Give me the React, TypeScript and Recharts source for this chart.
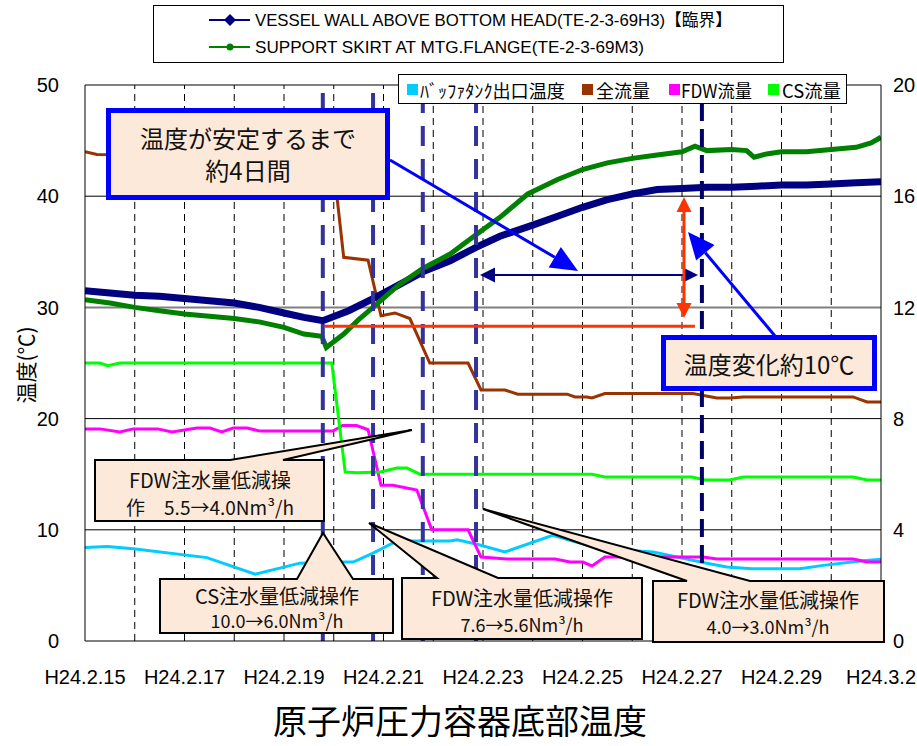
import React from 'react';
import { ComposedChart, Line, XAxis, YAxis, ReferenceLine } from 'recharts';

// ---- axes ----
const xTicks = [0, 2, 4, 6, 8, 10, 12, 14, 16];
const xTickLabels = ['H24.2.15', 'H24.2.17', 'H24.2.19', 'H24.2.21', 'H24.2.23', 'H24.2.25', 'H24.2.27', 'H24.2.29', 'H24.3.2'];
const leftTicks = [0, 10, 20, 30, 40, 50];
const rightTicks = [0, 4, 8, 12, 16, 20];
const gridDays = [1, 2, 3, 4, 5, 6, 7, 8, 9, 10, 11, 12, 13, 14, 15];
const gridTemps = [10, 20, 40, 50];

// ---- series: [day since H24.2.15, value] ----
const vesselWall: [number, number][] = [
  [0, 31.5], [0.5, 31.3], [1, 31.1], [1.5, 31.0], [2, 30.8], [2.5, 30.6], [3, 30.4], [3.5, 30.0],
  [4, 29.5], [4.4, 29.1], [4.78, 28.8], [5.3, 29.7], [5.79, 30.8], [6.3, 32.0], [6.79, 33.2],
  [7.34, 34.2], [7.86, 35.4], [8.34, 36.4], [9, 37.4], [9.5, 38.2], [10, 39.0], [10.5, 39.7],
  [11, 40.2], [11.5, 40.6], [12, 40.7], [12.5, 40.8], [13, 40.8], [13.5, 40.9], [14, 41.0],
  [14.5, 41.0], [15, 41.1], [15.5, 41.2], [16, 41.3],
];
const supportSkirt: [number, number][] = [
  [0, 30.7], [0.5, 30.4], [1, 30.0], [1.5, 29.7], [2, 29.4], [2.5, 29.2], [3, 29.0], [3.5, 28.7],
  [4, 28.2], [4.4, 27.6], [4.76, 27.4], [4.85, 26.4], [5.2, 27.6], [5.5, 28.9], [5.79, 30.0],
  [6.3, 32.0], [6.79, 33.5], [7.34, 34.8], [7.88, 36.6], [8.34, 38.1], [8.9, 40.2], [9.5, 41.5],
  [10, 42.4], [10.5, 43.0], [11, 43.4], [11.5, 43.7], [12, 44.0], [12.26, 44.5], [12.5, 44.1],
  [13, 44.2], [13.3, 44.1], [13.45, 43.5], [13.7, 43.8], [14, 44.0], [14.5, 44.0], [15, 44.2],
  [15.5, 44.4], [15.8, 44.8], [16, 45.3],
];
const bufferTankTemp: [number, number][] = [
  [0, 8.4], [0.45, 8.5], [0.97, 8.3], [2.45, 7.5], [3.42, 6.0], [4.32, 7.0], [5.18, 7.1],
  [5.39, 7.1], [5.79, 7.9], [6.27, 9.0], [7.34, 9.0], [7.48, 9.1], [7.88, 8.7], [8.44, 8.0],
  [9.4, 9.5], [10.35, 8.3], [11.42, 8.0], [12.5, 7.0], [12.9, 6.65], [13.4, 6.5], [14.37, 6.5],
  [14.84, 6.8], [15.58, 7.2], [16, 7.35],
];
const totalFlow: [number, number][] = [
  [0, 17.6], [0.24, 17.5], [4.92, 17.4], [5.07, 15.9], [5.2, 13.8], [5.69, 13.7], [5.95, 11.7],
  [6.23, 11.8], [6.53, 11.6], [6.93, 10.0], [7.7, 10.0], [7.96, 9.03], [8.44, 9.03], [8.7, 8.88],
  [9.69, 8.88], [9.85, 8.78], [10.09, 8.78], [10.19, 8.74], [10.45, 8.9], [12.22, 8.9],
  [12.7, 8.74], [12.96, 8.74], [13.23, 8.78], [15.44, 8.78], [15.72, 8.6], [16, 8.6],
];
const fdwFlow: [number, number][] = [
  [0, 7.63], [0.3, 7.63], [0.7, 7.52], [0.97, 7.63], [1.46, 7.63], [1.75, 7.52], [2.25, 7.66],
  [2.51, 7.66], [2.75, 7.52], [2.98, 7.66], [3.26, 7.66], [3.52, 7.55], [4.98, 7.55], [5.18, 7.75],
  [5.46, 7.75], [5.69, 7.6], [5.95, 5.6], [6.19, 5.6], [6.67, 5.43], [6.97, 4.0], [7.7, 4.0],
  [7.96, 3.02], [8.48, 2.95], [9.45, 2.95], [9.75, 2.84], [10.01, 2.84], [10.19, 2.7], [10.45, 3.02],
  [12.42, 3.02], [12.7, 2.95], [15.44, 2.95], [15.72, 2.84], [16, 2.84],
];
const csFlow: [number, number][] = [
  [0, 10.0], [0.3, 10.0], [0.46, 9.9], [0.7, 10.0], [4.96, 10.0], [5.23, 6.08], [5.47, 6.05],
  [5.93, 6.08], [6.27, 6.22], [6.47, 6.22], [6.73, 6.0], [10.19, 6.0], [10.45, 5.9], [12.2, 5.9],
  [12.46, 5.79], [12.96, 5.79], [13.23, 5.9], [15.44, 5.9], [15.72, 5.79], [16, 5.79],
];

// ---- operation markers ----
const opDays = [4.78, 5.79, 6.79, 7.86];
const stableDay = 12.4;
const baseTemp = 28.3;
const baseFrom = 4.82;
const baseTo = 12.26;

const toRows = (pts: [number, number][]) => pts.map(([d, v]) => ({ d, v }));

const JP = "'Noto Sans CJK JP', sans-serif";
const LAT = "'Liberation Sans', 'Noto Sans CJK JP', sans-serif";
const PEACH = '#fde9d9';

function callout(box: [number, number, number, number], b1: number, b2: number, tip: [number, number]) {
  const [l, t, r, bt] = box;
  return `M${l},${t} L${b1},${t} L${tip[0]},${tip[1]} L${b2},${t} L${r},${t} L${r},${bt} L${l},${bt} Z`;
}

function arrowHead(x1: number, y1: number, x2: number, y2: number, len: number, hw: number) {
  const dx = x2 - x1, dy = y2 - y1;
  const L = Math.hypot(dx, dy);
  const ux = dx / L, uy = dy / L;
  const bx = x2 - ux * len, by = y2 - uy * len;
  const px = -uy * hw, py = ux * hw;
  return { pts: `${x2},${y2} ${bx + px},${by + py} ${bx - px},${by - py}`, bx, by };
}

function Arrow({ x1, y1, x2, y2, color, w, len, hw, both }: any) {
  const h2 = arrowHead(x1, y1, x2, y2, len, hw);
  const h1 = both ? arrowHead(x2, y2, x1, y1, len, hw) : null;
  return (
    <g>
      <line x1={h1 ? h1.bx : x1} y1={h1 ? h1.by : y1} x2={h2.bx} y2={h2.by} stroke={color} strokeWidth={w} />
      <polygon points={h2.pts} fill={color} />
      {h1 && <polygon points={h1.pts} fill={color} />}
    </g>
  );
}

export default function App() {
  return (
    <div style={{ position: 'absolute', left: 0, top: 0, width: 917, height: 746, background: '#fff' }}>
      <ComposedChart width={917} height={746} margin={{ top: 85, right: 0, bottom: 65, left: 0 }}>
        <XAxis
          dataKey="d"
          type="number"
          domain={[0, 16]}
          ticks={xTicks}
          interval={0}
          allowDataOverflow
          tickFormatter={(v: number) => xTickLabels[xTicks.indexOf(v)] ?? ''}
          height={40}
          tickSize={0}
          tickMargin={29}
          axisLine={{ stroke: '#000', strokeWidth: 1 }}
          tick={{ fontSize: 20, fill: '#000', fontFamily: LAT }}
        />
        <YAxis
          yAxisId="L"
          width={85}
          domain={[0, 50]}
          ticks={leftTicks}
          interval={0}
          allowDataOverflow
          tickSize={0}
          tickMargin={26}
          axisLine={{ stroke: '#000', strokeWidth: 1 }}
          tick={{ fontSize: 20, fill: '#000', fontFamily: LAT }}
        />
        <YAxis
          yAxisId="R"
          orientation="right"
          width={36}
          domain={[0, 20]}
          ticks={rightTicks}
          interval={0}
          allowDataOverflow
          tickSize={0}
          tickMargin={12}
          axisLine={{ stroke: '#000', strokeWidth: 1 }}
          tick={{ fontSize: 20, fill: '#000', fontFamily: LAT, textAnchor: 'start' }}
        />
        {gridDays.map((d) => (
          <ReferenceLine key={'gd' + d} x={d} yAxisId="L" stroke="#000" strokeWidth={1} strokeDasharray="7 5" />
        ))}
        {gridTemps.map((t) => (
          <ReferenceLine key={'gt' + t} y={t} yAxisId="L" stroke="#000" strokeWidth={1} />
        ))}
        <ReferenceLine y={30} yAxisId="L" stroke="#808080" strokeWidth={2} />

        <Line data={toRows(bufferTankTemp)} dataKey="v" yAxisId="L" type="linear" stroke="#00ccff" strokeWidth={3} dot={false} isAnimationActive={false} />
        <Line data={toRows(totalFlow)} dataKey="v" yAxisId="R" type="linear" stroke="#993300" strokeWidth={3} dot={false} isAnimationActive={false} />
        <Line data={toRows(fdwFlow)} dataKey="v" yAxisId="R" type="linear" stroke="#ff00ff" strokeWidth={3} dot={false} isAnimationActive={false} />
        <Line data={toRows(csFlow)} dataKey="v" yAxisId="R" type="linear" stroke="#00ff00" strokeWidth={3} dot={false} isAnimationActive={false} />
        <Line data={toRows(vesselWall)} dataKey="v" yAxisId="L" type="linear" stroke="#000080" strokeWidth={7} dot={false} isAnimationActive={false} />
        <Line data={toRows(supportSkirt)} dataKey="v" yAxisId="L" type="linear" stroke="#008000" strokeWidth={5} dot={false} isAnimationActive={false} />

        {opDays.map((d) => (
          <ReferenceLine key={'op' + d} x={d} yAxisId="L" stroke="#333399" strokeWidth={4} strokeDasharray="20 13" />
        ))}
        <ReferenceLine x={stableDay} yAxisId="L" stroke="#000066" strokeWidth={4} strokeDasharray="18 8" />
        <ReferenceLine
          yAxisId="L"
          segment={[{ x: baseFrom, y: baseTemp }, { x: baseTo, y: baseTemp }]}
          stroke="#ff3300"
          strokeWidth={3}
        />
      </ComposedChart>

      <svg width={917} height={746} style={{ position: 'absolute', left: 0, top: 0, pointerEvents: 'none' }}>
        {/* top legend */}
        <rect x={153.5} y={5.5} width={630} height={57} fill="#fff" stroke="#000" strokeWidth={1} />
        <line x1={209} y1={20} x2={250} y2={20} stroke="#000080" strokeWidth={2} />
        <polygon points="230,14 236,20 230,26 224,20" fill="#000080" />
        <text x={255} y={20} dominantBaseline="central" fontSize={17} fontFamily={LAT} textLength={477} lengthAdjust="spacingAndGlyphs">
          VESSEL WALL ABOVE BOTTOM HEAD(TE-2-3-69H3)【臨界】
        </text>
        <line x1={209} y1={47} x2={250} y2={47} stroke="#008000" strokeWidth={2} />
        <circle cx={230} cy={47} r={3.5} fill="#008000" />
        <text x={255} y={47} dominantBaseline="central" fontSize={17} fontFamily={LAT} textLength={389} lengthAdjust="spacingAndGlyphs">
          SUPPORT SKIRT AT MTG.FLANGE(TE-2-3-69M3)
        </text>

        {/* second legend */}
        <rect x={398.5} y={74.5} width={448} height={29} fill="#fff" stroke="#000" strokeWidth={1} />
        <rect x={407} y={84} width={11} height={11} fill="#00ccff" />
        <text x={420} y={89.5} dominantBaseline="central" fontSize={18} fontFamily={JP} textLength={145} lengthAdjust="spacingAndGlyphs">ﾊﾞｯﾌｧﾀﾝｸ出口温度</text>
        <rect x={582} y={84} width={11} height={11} fill="#993300" />
        <text x={596} y={89.5} dominantBaseline="central" fontSize={18} fontFamily={JP} textLength={54} lengthAdjust="spacingAndGlyphs">全流量</text>
        <rect x={669} y={84} width={11} height={11} fill="#ff00ff" />
        <text x={681} y={89.5} dominantBaseline="central" fontSize={18} fontFamily={JP} textLength={71} lengthAdjust="spacingAndGlyphs">FDW流量</text>
        <rect x={768} y={84} width={11} height={11} fill="#00ff00" />
        <text x={782} y={89.5} dominantBaseline="central" fontSize={18} fontFamily={JP} textLength={59} lengthAdjust="spacingAndGlyphs">CS流量</text>

        {/* arrows */}
        <Arrow x1={390} y1={160} x2={578} y2={271} color="#0000ff" w={3} len={27} hw={12} />
        <Arrow x1={775} y1={336} x2={688} y2={232} color="#0000ff" w={3} len={27} hw={12} />
        <Arrow x1={480} y1={275} x2={698} y2={275} color="#000080" w={2} len={15} hw={7.5} both />
        <Arrow x1={684} y1={197} x2={684} y2={318} color="#ff3300" w={3} len={15} hw={7.5} both />

        {/* blue-bordered boxes */}
        <rect x={108.5} y={110.5} width={279} height={87} fill={PEACH} stroke="#0000ff" strokeWidth={5} />
        <text x={248} y={137} textAnchor="middle" dominantBaseline="central" fontSize={24} fontFamily={JP} fill="#111">温度が安定するまで</text>
        <text x={248} y={169} textAnchor="middle" dominantBaseline="central" fontSize={24} fontFamily={JP} fill="#111">約4日間</text>

        <rect x={663.5} y={337.5} width={211} height={51} fill={PEACH} stroke="#0000ff" strokeWidth={5} />
        <text x={769} y={363} textAnchor="middle" dominantBaseline="central" fontSize={24} fontFamily={JP} fill="#111">温度変化約10℃</text>

        {/* callouts */}
        <path d={callout([95, 460, 324, 521], 230, 283, [412, 430])} fill={PEACH} stroke="#000" strokeWidth={2} />
        <text x={210} y={479} textAnchor="middle" dominantBaseline="central" fontSize={20} fontFamily={JP} fill="#111">FDW注水量低減操</text>
        <text x={210} y={506} textAnchor="middle" dominantBaseline="central" fontSize={19} fontFamily={JP} fill="#111">作　5.5→4.0Nm³/h</text>

        <path d={callout([160, 579, 393, 633], 297, 353, [323, 533])} fill={PEACH} stroke="#000" strokeWidth={2} />
        <text x={277} y={595} textAnchor="middle" dominantBaseline="central" fontSize={20} fontFamily={JP} fill="#111">CS注水量低減操作</text>
        <text x={277} y={620} textAnchor="middle" dominantBaseline="central" fontSize={18} fontFamily={JP} fill="#111">10.0→6.0Nm³/h</text>

        <path d={callout([402, 578, 642, 639], 437, 498, [369, 523])} fill={PEACH} stroke="#000" strokeWidth={2} />
        <text x={522} y={597} textAnchor="middle" dominantBaseline="central" fontSize={20} fontFamily={JP} fill="#111">FDW注水量低減操作</text>
        <text x={522} y={624} textAnchor="middle" dominantBaseline="central" fontSize={18} fontFamily={JP} fill="#111">7.6→5.6Nm³/h</text>

        <path d={callout([653, 581, 884, 642], 687, 750, [483, 509])} fill={PEACH} stroke="#000" strokeWidth={2} />
        <text x={768} y={599} textAnchor="middle" dominantBaseline="central" fontSize={20} fontFamily={JP} fill="#111">FDW注水量低減操作</text>
        <text x={768} y={626} textAnchor="middle" dominantBaseline="central" fontSize={18} fontFamily={JP} fill="#111">4.0→3.0Nm³/h</text>

        {/* axis title and chart title */}
        <text x={0} y={0} transform="translate(25,365) rotate(-90)" textAnchor="middle" dominantBaseline="central" fontSize={21} fontFamily={JP} fill="#000">温度(℃)</text>
        <text x={460} y={719} textAnchor="middle" dominantBaseline="central" fontSize={34} fontFamily={JP} fill="#000">原子炉圧力容器底部温度</text>
      </svg>
    </div>
  );
}
